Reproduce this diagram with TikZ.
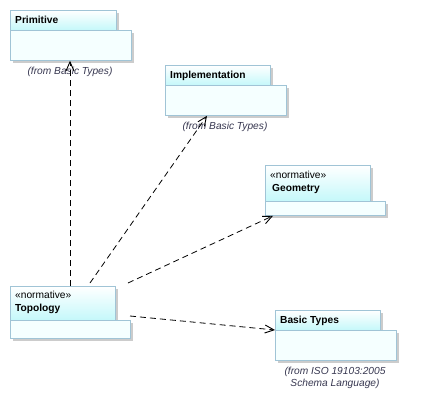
\documentclass[tikz,border=0pt]{standalone}
\usepackage{fontspec}
\setmainfont{Liberation Sans}
\usetikzlibrary{arrows.meta,shadows,calc}
\definecolor{tabcyan}{RGB}{196,248,250}
\definecolor{bodycyan}{RGB}{245,255,255}
\definecolor{pkgborder}{RGB}{160,196,214}
\definecolor{shadowgray}{RGB}{204,204,204}
\definecolor{fromtext}{RGB}{55,55,80}
\tikzset{
  pkgshadow/.style={drop shadow={shadow xshift=3pt,shadow yshift=-3pt,fill=shadowgray,opacity=1}},
  pkgtab/.style={draw=pkgborder,line width=0.8pt,top color=white,bottom color=tabcyan,anchor=north west,inner sep=0pt,pkgshadow},
  pkgbody/.style={draw=pkgborder,line width=0.8pt,fill=bodycyan,anchor=north west,inner sep=0pt,pkgshadow},
  pkgtitle/.style={anchor=north west,inner sep=0pt,align=left,font=\fontsize{10.2}{12.5}\selectfont},
  fromlabel/.style={inner sep=0pt,align=center,text=fromtext,font=\fontsize{10.2}{12.5}\selectfont\itshape},
  dep/.style={draw=black,line width=0.8pt,dash pattern=on 6pt off 4pt,-{Straight Barb[length=9pt,width=8pt,line width=0.9pt]}}
}
\begin{document}
\begin{tikzpicture}[x=1pt,y=-1pt]
\useasboundingbox (0,0) rectangle (432,407);
% Primitive
\node[pkgtab,minimum width=106pt,minimum height=20pt] (prim-tab) at (10,10) {};
\node[pkgbody,minimum width=121pt,minimum height=30pt] (prim) at (10,30) {};
\node[pkgtitle] (prim-t) at (15,16) {\textbf{Primitive}};
\node[fromlabel] (prim-from) at (70,72) {(from Basic Types)};
% Implementation
\node[pkgtab,minimum width=105pt,minimum height=20pt] (impl-tab) at (165,65) {};
\node[pkgbody,minimum width=121pt,minimum height=30pt] (impl) at (165,85) {};
\node[pkgtitle] (impl-t) at (170,71) {\textbf{Implementation}};
\node[fromlabel] (impl-from) at (225,127) {(from Basic Types)};
% Geometry
\node[pkgtab,minimum width=105pt,minimum height=36pt] (geom-tab) at (265,165) {};
\node[pkgbody,minimum width=120pt,minimum height=14pt] (geom) at (265,201) {};
\node[pkgtitle] (geom-t) at (270,171) {«normative»\\\hspace*{2pt}\textbf{Geometry}};
% Topology
\node[pkgtab,minimum width=105pt,minimum height=34pt] (topo-tab) at (10,286) {};
\node[pkgbody,minimum width=120pt,minimum height=18pt] (topo) at (10,320) {};
\node[pkgtitle] (topo-t) at (15,291) {«normative»\\\textbf{Topology}};
% Basic Types
\node[pkgtab,minimum width=105pt,minimum height=20pt] (basic-tab) at (275,310) {};
\node[pkgbody,minimum width=121pt,minimum height=30pt] (basic) at (275,330) {};
\node[pkgtitle] (basic-t) at (280,316) {\textbf{Basic Types}};
\node[fromlabel] (basic-from) at (335,378) {(from ISO 19103:2005\\Schema Language)};
% connector ends
\coordinate (s1) at ([xshift=60pt]topo-tab.north west);
\coordinate (s2) at (90,283);
\coordinate (s3) at (128,283);
\coordinate (s4) at (130,316);
\coordinate (e1) at ([xshift=60pt]prim.south west);
\coordinate (e2) at ([xshift=42pt]impl.south west);
\coordinate (e3) at ([xshift=8pt]geom.south west);
\coordinate (e4) at (basic.north west);
\draw[dep] (s1) -- (e1);
\draw[dep] (s2) -- (e2);
\draw[dep] (s3) -- (e3);
\draw[dep] (s4) -- (e4);
\end{tikzpicture}
\end{document}
